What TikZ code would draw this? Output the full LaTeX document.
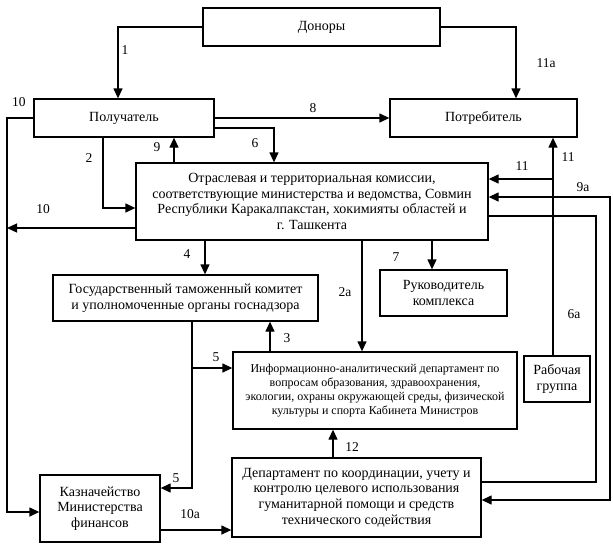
\documentclass[tikz,border=0pt]{standalone}
\usepackage{fontspec}
\setmainfont{Liberation Serif}
\usetikzlibrary{arrows.meta}
\begin{document}
\begin{tikzpicture}[x=1pt,y=-1pt,
  box/.style={draw,line width=1.3pt,align=center,inner sep=0pt,font=\fontsize{14}{15.7}\selectfont},
  conn/.style={line width=1.3pt},
  arr/.style={conn,-{Triangle[length=10pt,width=9pt]}},
  lbl/.style={font=\fontsize{13.5}{14}\selectfont,inner sep=0pt}]
\useasboundingbox (0,0) rectangle (613,544);
% boxes
\node[box,minimum width=237pt,minimum height=38pt] (don) at (321.5,27) {Доноры};
\node[box,minimum width=180pt,minimum height=38pt] (pol) at (124,118) {Получатель};
\node[box,minimum width=187pt,minimum height=38pt] (potr) at (483.5,118) {Потребитель};
\node[box,minimum width=352pt,minimum height=77pt] (otr) at (312,201.5) {Отраслевая и территориальная комиссии,\\соответствующие министерства и ведомства, Совмин\\Республики Каракалпакстан, хокимияты областей и\\г. Ташкента};
\node[box,minimum width=265pt,minimum height=46pt] (gtk) at (185.5,298) {Государственный таможенный комитет\\и уполномоченные органы госнадзора};
\node[box,minimum width=127pt,minimum height=46pt] (ruk) at (443.5,293) {Руководитель\\комплекса};
\node[box,minimum width=284pt,minimum height=77pt,font=\fontsize{12}{14}\selectfont] (info) at (375,390.5) {Информационно-аналитический департамент по\\вопросам образования, здравоохранения,\\экологии, охраны окружающей среды, физической\\культуры и спорта Кабинета Министров};
\node[box,minimum width=66pt,minimum height=46pt] (rab) at (557,379) {Рабочая\\группа};
\node[box,minimum width=249pt,minimum height=79pt] (dep) at (356.5,497.5) {Департамент по координации, учету и\\контролю целевого использования\\гуманитарной помощи и средств\\технического содействия};
\node[box,minimum width=120pt,minimum height=67pt] (kaz) at (100,508.5) {Казначейство\\Министерства\\финансов};
% helper coordinates
\coordinate (lft) at (7,300);
\coordinate (r1) at (596,300);
\coordinate (r2) at (610,300);
\coordinate (a1) at ([xshift=-6pt]pol.north);
\coordinate (a11a) at ([xshift=32.5pt]potr.north);
\coordinate (a6s) at ([yshift=-10pt]pol.east);
\coordinate (a6e) at ([xshift=-38pt]otr.north);
\coordinate (a9s) at ([xshift=-138pt]otr.north);
\coordinate (a2s) at ([xshift=-21pt]pol.south);
\coordinate (a2e) at ([yshift=-6.5pt]otr.west);
\coordinate (k10) at ([yshift=-3.5pt]kaz.west);
\coordinate (o10) at ([yshift=-26.5pt]otr.west);
\coordinate (a4s) at ([xshift=-107pt]otr.south);
\coordinate (a7s) at ([xshift=120pt]otr.south);
\coordinate (a2as) at ([xshift=50pt]otr.south);
\coordinate (a3s) at ([xshift=-105pt]info.north);
\coordinate (a5s) at ([xshift=6.5pt]gtk.south);
\coordinate (a5k) at ([yshift=20.5pt]kaz.east);
\coordinate (a5i) at ([yshift=22.5pt]info.west);
\coordinate (a12s) at ([xshift=-23.5pt]dep.north);
\coordinate (a10as) at ([yshift=-21.5pt]kaz.east);
\coordinate (a11s) at ([xshift=-4pt]rab.north);
\coordinate (a11o) at ([yshift=22.5pt]otr.east);
\coordinate (a9ao) at ([yshift=4.5pt]otr.east);
\coordinate (a9ad) at ([yshift=-2.5pt]dep.east);
\coordinate (a6ao) at ([yshift=-14.5pt]otr.east);
\coordinate (a6ad) at ([yshift=15.5pt]dep.east);
% connectors
\draw[arr] (don.west) -| (a1);
\draw[arr] (don.east) -| (a11a);
\draw[arr] (pol.east) -- (potr.west);
\draw[arr] (a6s) -| (a6e);
\draw[arr] (a9s) -- (a9s |- pol.south);
\draw[arr] (a2s) |- (a2e);
\draw[arr] (pol.west) -| (lft) |- (k10);
\draw[arr] (o10) -- (o10 -| lft);
\draw[arr] (a4s) -- (a4s |- gtk.north);
\draw[arr] (a7s) -- (a7s |- ruk.north);
\draw[arr] (a2as) -- (a2as |- info.north);
\draw[arr] (a3s) -- (a3s |- gtk.south);
\draw[arr] (a5s) |- (a5k);
\draw[arr] (a5s |- a5i) -- (a5i);
\draw[arr] (a12s) -- (a12s |- info.south);
\draw[arr] (a10as) -- (a10as -| dep.west);
\draw[arr] (a11s) -- (a11s |- potr.south);
\draw[arr] (a11s |- a11o) -- (a11o);
\draw[conn,{Triangle[length=10pt,width=9pt]}-{Triangle[length=10pt,width=9pt]}] (a9ao) -| (r2) |- (a9ad);
\draw[conn] (a6ao) -| (r1) |- (a6ad);
% labels
\node[lbl] (l1) at (125,50) {1};
\node[lbl] (l11a) at (546,63) {11а};
\node[lbl] (l10a) at (19,102) {10};
\node[lbl] (l8) at (313,108) {8};
\node[lbl] (l6) at (255,143) {6};
\node[lbl] (l9) at (157,147) {9};
\node[lbl] (l2) at (89,158) {2};
\node[lbl] (l11b) at (568,157) {11};
\node[lbl] (l11c) at (522,166) {11};
\node[lbl] (l9a) at (583,187) {9а};
\node[lbl] (l10b) at (43,209) {10};
\node[lbl] (l4) at (187,254) {4};
\node[lbl] (l7) at (396,257) {7};
\node[lbl] (l2a) at (345,292) {2а};
\node[lbl] (l6a) at (574,314) {6а};
\node[lbl] (l3) at (287,338) {3};
\node[lbl] (l5a) at (216,357) {5};
\node[lbl] (l12) at (352,447) {12};
\node[lbl] (l5b) at (176,478) {5};
\node[lbl] (l10c) at (190,514) {10а};
\end{tikzpicture}
\end{document}
